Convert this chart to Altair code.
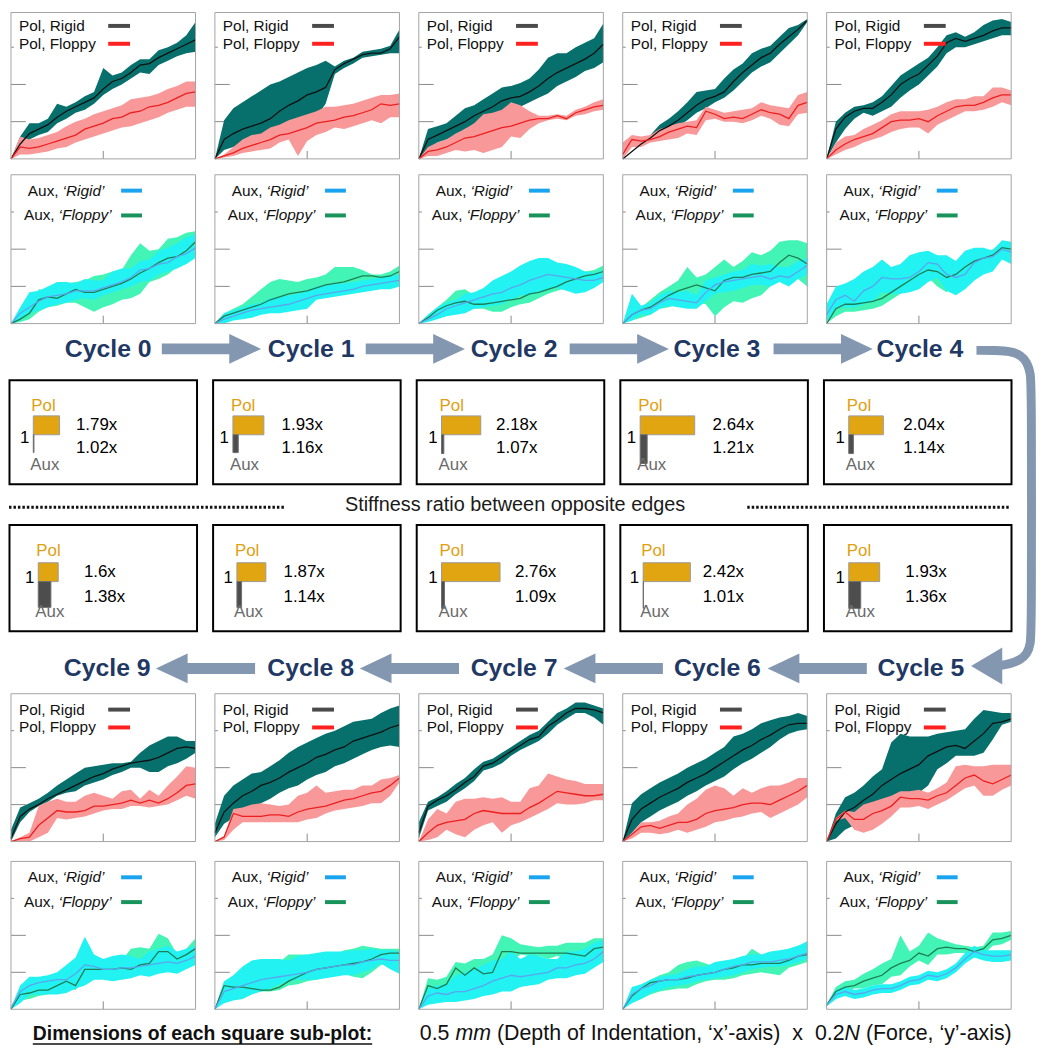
import altair as alt
import pandas as pd

# ------------------------------------------------------------------
# DATA  (x grid = fraction of 0.5 mm indentation, values = % of 0.2 N)
# ------------------------------------------------------------------
T = [0.00, 0.05, 0.10, 0.15, 0.20, 0.25, 0.30, 0.35, 0.40, 0.45, 0.50,
     0.55, 0.60, 0.65, 0.70, 0.75, 0.80, 0.85, 0.90, 0.95, 1.00]

# Pol panels: R = rigid (mean, low, high), F = floppy (mean, low, high)
P0_RM = [0, 10, 17, 20, 23, 28, 32, 35, 38, 41, 47, 52, 54, 58, 63, 64, 68, 71, 74, 77, 80]
P0_RL = [0, 6, 13, 16, 18, 24, 27, 31, 33, 37, 43, 47, 50, 54, 58, 57, 63, 66, 69, 71, 72]
P0_RH = [0, 15, 24, 24, 27, 37, 35, 38, 42, 45, 61, 56, 58, 63, 67, 67, 73, 75, 78, 83, 92]
P0_FM = [0, 8, 7, 8, 10, 12, 14, 16, 20, 22, 24, 27, 28, 31, 32, 35, 36, 38, 41, 44, 45]
P0_FL = [0, 3, 3, 4, 5, 7, 8, 11, 13, 15, 17, 19, 21, 22, 24, 26, 28, 31, 33, 35, 35]
P0_FH = [0, 15, 13, 14, 16, 18, 22, 25, 27, 30, 32, 34, 36, 40, 41, 42, 44, 47, 49, 52, 52]

P1_RM = [0, 13, 17, 20, 22, 24, 27, 32, 36, 39, 43, 45, 48, 60, 64, 67, 70, 71, 71, 74, 82]
P1_RL = [0, 6, 8, 11, 13, 14, 16, 18, 20, 23, 25, 28, 37, 57, 61, 64, 68, 69, 70, 71, 71]
P1_RH = [0, 26, 34, 38, 42, 46, 50, 52, 55, 58, 61, 63, 66, 62, 66, 68, 72, 73, 74, 76, 87]
P1_FM = [0, 2, 4, 7, 9, 11, 13, 16, 17, 19, 21, 24, 25, 26, 28, 29, 31, 33, 37, 36, 37]
P1_FL = [0, 1, 2, 4, 5, 6, 7, 11, 13, 2, 12, 16, 18, 21, 20, 22, 24, 26, 24, 28, 28]
P1_FH = [0, 3, 8, 13, 16, 17, 21, 23, 26, 28, 30, 32, 35, 35, 36, 37, 39, 41, 43, 43, 44]

P2_RM = [0, 13, 16, 19, 22, 25, 29, 32, 35, 39, 41, 42, 45, 49, 54, 58, 61, 64, 67, 71, 77]
P2_RL = [0, 6, 11, 13, 16, 20, 23, 26, 30, 31, 33, 35, 38, 41, 44, 49, 52, 55, 59, 61, 65]
P2_RH = [0, 20, 22, 24, 29, 34, 36, 40, 44, 48, 49, 51, 54, 60, 68, 71, 71, 75, 78, 81, 91]
P2_FM = [0, 5, 6, 8, 11, 14, 15, 17, 19, 21, 22, 24, 26, 27, 27, 29, 27, 31, 33, 35, 36]
P2_FL = [0, 2, 2, 4, 6, 5, 6, 4, 6, 8, 15, 14, 20, 24, 26, 27, 26, 29, 30, 32, 33]
P2_FH = [0, 8, 11, 13, 17, 20, 24, 30, 31, 33, 38, 36, 32, 29, 29, 30, 29, 33, 35, 38, 40]

P3_RM = [0, 5, 10, 14, 19, 22, 26, 31, 36, 40, 42, 45, 52, 58, 63, 68, 71, 77, 82, 87, 93]
P3_RL = [0, 5, 10, 13, 16, 17, 22, 26, 31, 34, 38, 41, 46, 52, 58, 62, 65, 71, 77, 83, 92]
P3_RH = [0, 5, 10, 16, 23, 27, 32, 38, 45, 46, 47, 54, 60, 64, 71, 74, 76, 82, 88, 90, 94]
P3_FM = [3, 13, 12, 13, 15, 18, 20, 22, 21, 32, 30, 27, 28, 27, 30, 33, 31, 30, 27, 36, 38]
P3_FL = [0, 8, 8, 11, 12, 13, 14, 17, 16, 26, 27, 25, 25, 24, 26, 29, 27, 23, 22, 30, 31]
P3_FH = [11, 16, 15, 16, 20, 22, 24, 25, 26, 35, 33, 31, 32, 33, 34, 38, 36, 35, 34, 43, 45]

P4_RM = [0, 20, 28, 32, 34, 34, 38, 43, 50, 54, 57, 63, 69, 78, 81, 79, 81, 83, 86, 88, 88]
P4_RL = [0, 11, 20, 27, 31, 29, 32, 35, 41, 46, 50, 56, 62, 71, 75, 75, 77, 79, 81, 83, 83]
P4_RH = [0, 25, 31, 35, 36, 38, 42, 49, 56, 60, 64, 68, 75, 83, 85, 82, 85, 90, 93, 94, 92]
P4_FM = [0, 6, 10, 13, 15, 17, 21, 25, 26, 26, 27, 25, 29, 32, 35, 36, 36, 38, 41, 43, 43]
P4_FL = [0, 3, 6, 8, 11, 13, 15, 18, 20, 21, 21, 17, 23, 26, 29, 32, 32, 33, 35, 38, 36]
P4_FH = [0, 11, 15, 16, 20, 23, 26, 30, 32, 32, 32, 33, 35, 38, 40, 40, 42, 42, 48, 48, 46]

P5_RM = [0, 12, 20, 23, 28, 32, 38, 42, 46, 49, 52, 58, 61, 64, 65, 63, 68, 73, 80, 81, 83]
P5_RL = [0, 2, 8, 11, 11, 14, 20, 26, 31, 33, 33, 38, 49, 53, 58, 58, 58, 60, 69, 79, 81]
P5_RH = [0, 19, 30, 33, 38, 44, 49, 67, 73, 71, 71, 71, 73, 74, 75, 76, 83, 89, 88, 87, 87]
P5_FM = [0, 15, 20, 15, 15, 19, 21, 24, 30, 29, 29, 28, 31, 33, 38, 43, 45, 41, 39, 42, 45]
P5_FL = [0, 14, 16, 8, 6, 8, 12, 17, 23, 23, 24, 22, 25, 28, 32, 36, 38, 31, 31, 35, 38]
P5_FH = [0, 16, 21, 20, 25, 27, 29, 31, 34, 34, 35, 33, 36, 40, 51, 52, 51, 51, 52, 52, 52]

P6_RM = [0, 15, 22, 26, 30, 33, 36, 40, 43, 46, 50, 54, 58, 62, 65, 69, 72, 76, 79, 80, 80]
P6_RL = [0, 6, 13, 17, 21, 24, 27, 31, 34, 38, 41, 44, 49, 53, 56, 60, 64, 69, 73, 75, 76]
P6_RH = [0, 26, 32, 36, 40, 43, 46, 50, 53, 56, 60, 64, 71, 73, 76, 80, 82, 84, 85, 87, 85]
P6_FM = [0, 5, 10, 11, 9, 11, 13, 13, 15, 19, 21, 22, 23, 25, 26, 26, 25, 28, 31, 34, 38]
P6_FL = [0, 2, 6, 6, 5, 6, 8, 6, 8, 10, 13, 14, 16, 17, 19, 20, 16, 19, 22, 25, 30]
P6_FH = [0, 6, 13, 13, 14, 17, 19, 25, 29, 35, 38, 36, 31, 36, 33, 36, 38, 38, 40, 43, 43]

P7_RM = [6, 24, 28, 31, 35, 40, 44, 51, 53, 57, 61, 65, 69, 71, 78, 82, 87, 90, 90, 89, 87]
P7_RL = [2, 21, 24, 27, 32, 36, 41, 48, 50, 53, 58, 62, 65, 68, 73, 79, 83, 87, 87, 84, 79]
P7_RH = [13, 27, 30, 34, 39, 43, 49, 54, 56, 60, 64, 68, 72, 75, 81, 87, 90, 94, 94, 92, 90]
P7_FM = [0, 6, 11, 13, 14, 15, 19, 21, 20, 19, 19, 19, 23, 26, 30, 34, 33, 32, 31, 31, 32]
P7_FL = [0, 1, 3, 8, 5, 3, 8, 11, 13, 6, 11, 13, 16, 19, 22, 26, 25, 25, 26, 28, 28]
P7_FH = [0, 15, 22, 19, 27, 29, 29, 30, 29, 30, 27, 27, 36, 38, 46, 44, 42, 41, 39, 39, 39]

P8_RM = [6, 20, 26, 31, 34, 38, 40, 43, 47, 50, 53, 57, 59, 62, 64, 68, 70, 72, 74, 77, 79]
P8_RL = [3, 12, 16, 21, 23, 26, 29, 33, 36, 38, 42, 45, 47, 51, 53, 56, 59, 62, 64, 65, 64]
P8_RH = [12, 31, 38, 42, 46, 47, 51, 55, 60, 64, 67, 70, 73, 75, 78, 81, 82, 83, 87, 90, 92]
P8_FM = [0, 3, 19, 17, 17, 17, 18, 18, 17, 20, 22, 23, 24, 26, 28, 29, 31, 33, 34, 38, 43]
P8_FL = [0, 1, 8, 13, 13, 13, 13, 13, 13, 13, 15, 16, 19, 21, 22, 23, 24, 26, 26, 31, 40]
P8_FH = [0, 4, 22, 23, 25, 26, 25, 24, 25, 31, 33, 38, 33, 34, 35, 35, 38, 38, 42, 43, 45]

P9_RM = [2, 17, 22, 25, 29, 32, 35, 38, 41, 44, 46, 49, 51, 53, 54, 55, 57, 60, 63, 64, 63]
P9_RL = [0, 13, 20, 24, 27, 31, 33, 34, 38, 40, 42, 45, 47, 50, 50, 47, 47, 51, 53, 56, 60]
P9_RH = [8, 23, 26, 29, 33, 38, 42, 46, 50, 51, 52, 53, 53, 54, 60, 65, 68, 71, 71, 68, 68]
P9_FM = [0, 2, 3, 11, 16, 21, 20, 20, 21, 24, 24, 25, 26, 28, 26, 28, 26, 29, 33, 38, 39]
P9_FL = [0, 0, 0, 3, 6, 16, 15, 16, 17, 19, 21, 22, 22, 24, 24, 23, 24, 25, 28, 31, 29]
P9_FH = [0, 3, 6, 24, 27, 29, 27, 27, 31, 33, 31, 29, 34, 35, 29, 35, 31, 38, 44, 51, 50]

# Aux panels
A0_RM = [0, 7, 11, 15, 18, 19, 20, 22, 22, 22, 24, 26, 28, 31, 36, 37, 40, 41, 45, 47, 51]
A0_RL = [0, 2, 7, 9, 11, 13, 14, 16, 17, 16, 19, 21, 23, 25, 28, 29, 33, 35, 37, 40, 44]
A0_RH = [0, 11, 21, 22, 25, 28, 28, 27, 30, 29, 29, 35, 37, 37, 42, 43, 49, 51, 54, 58, 60]
A0_FM = [0, 3, 7, 16, 18, 17, 20, 23, 21, 21, 23, 25, 27, 30, 34, 37, 41, 44, 45, 49, 55]
A0_FL = [0, 1, 3, 8, 11, 12, 14, 14, 11, 8, 11, 13, 16, 17, 20, 28, 30, 33, 38, 40, 45]
A0_FH = [0, 4, 11, 23, 22, 26, 27, 28, 29, 32, 33, 35, 36, 46, 54, 49, 50, 57, 58, 61, 62]

A1_RM = [0, 3, 5, 7, 9, 10, 11, 12, 13, 15, 17, 19, 20, 21, 22, 23, 25, 26, 27, 28, 29]
A1_RL = [0, 0, 2, 3, 4, 6, 7, 7, 8, 9, 10, 16, 17, 18, 19, 20, 21, 22, 23, 23, 25]
A1_RH = [0, 7, 9, 11, 13, 14, 17, 18, 19, 20, 22, 25, 26, 27, 27, 28, 29, 30, 31, 32, 33]
A1_FM = [0, 5, 7, 9, 11, 13, 16, 18, 20, 21, 22, 24, 26, 27, 28, 30, 32, 32, 31, 32, 35]
A1_FL = [0, 1, 3, 4, 7, 9, 12, 14, 16, 16, 17, 19, 21, 22, 23, 25, 28, 29, 29, 30, 31]
A1_FH = [0, 7, 10, 13, 18, 23, 28, 30, 29, 28, 30, 31, 33, 38, 38, 38, 36, 33, 33, 35, 39]

A2_RM = [0, 3, 6, 10, 12, 14, 16, 18, 20, 21, 24, 26, 29, 31, 33, 32, 31, 30, 29, 29, 31]
A2_RL = [0, 1, 3, 5, 6, 7, 10, 11, 12, 13, 16, 19, 19, 21, 23, 24, 22, 20, 21, 24, 28]
A2_RH = [0, 6, 11, 14, 16, 20, 21, 24, 29, 32, 35, 39, 42, 44, 44, 41, 40, 38, 35, 34, 36]
A2_FM = [0, 4, 9, 12, 14, 15, 13, 13, 14, 15, 16, 17, 20, 21, 23, 25, 28, 30, 32, 33, 35]
A2_FL = [0, 2, 5, 8, 11, 11, 10, 10, 8, 8, 11, 13, 14, 17, 20, 22, 24, 26, 29, 30, 32]
A2_FH = [0, 6, 11, 16, 22, 23, 19, 20, 19, 20, 20, 22, 24, 25, 29, 31, 33, 34, 35, 36, 39]

A3_RM = [0, 6, 9, 10, 14, 17, 16, 15, 14, 21, 26, 28, 29, 30, 31, 32, 30, 32, 31, 35, 39]
A3_RL = [0, 2, 6, 6, 10, 12, 11, 10, 10, 15, 20, 21, 22, 24, 26, 26, 25, 28, 25, 30, 33]
A3_RH = [0, 20, 12, 14, 19, 22, 21, 22, 19, 29, 31, 33, 35, 36, 40, 39, 40, 38, 38, 42, 44]
A3_FM = [0, 6, 9, 11, 15, 19, 22, 24, 26, 24, 22, 29, 31, 31, 33, 34, 35, 41, 46, 44, 40]
A3_FL = [0, 2, 4, 6, 10, 11, 13, 13, 14, 13, 5, 11, 15, 14, 17, 19, 25, 31, 37, 30, 25]
A3_FH = [0, 8, 11, 16, 21, 25, 29, 38, 31, 33, 38, 43, 38, 42, 48, 46, 49, 55, 56, 56, 54]

A4_RM = [6, 16, 19, 15, 22, 25, 31, 30, 30, 31, 35, 41, 40, 33, 31, 33, 41, 44, 45, 50, 48]
A4_RL = [1, 11, 11, 11, 13, 15, 21, 20, 20, 21, 23, 28, 31, 22, 19, 23, 29, 33, 35, 43, 40]
A4_RH = [13, 25, 27, 30, 35, 38, 43, 38, 40, 46, 48, 49, 46, 46, 42, 49, 51, 51, 49, 56, 55]
A4_FM = [0, 10, 13, 13, 14, 15, 17, 21, 25, 29, 33, 36, 35, 31, 33, 38, 42, 44, 46, 51, 50]
A4_FL = [0, 5, 8, 8, 9, 10, 12, 16, 20, 24, 28, 31, 25, 21, 28, 33, 37, 39, 41, 46, 45]
A4_FH = [0, 14, 17, 17, 18, 19, 21, 25, 29, 33, 37, 40, 40, 36, 38, 42, 46, 48, 50, 55, 54]

A5_RM = [3, 10, 12, 10, 11, 13, 14, 14, 16, 19, 20, 23, 22, 24, 28, 34, 39, 37, 36, 36, 37]
A5_RL = [2, 7, 9, 7, 8, 10, 11, 11, 13, 16, 17, 20, 19, 21, 25, 31, 35, 33, 32, 32, 33]
A5_RH = [3, 13, 15, 13, 14, 16, 17, 17, 19, 22, 23, 26, 25, 27, 31, 38, 43, 40, 40, 40, 40]
A5_FM = [3, 12, 15, 16, 19, 21, 23, 28, 31, 33, 38, 36, 41, 42, 41, 41, 39, 41, 47, 48, 50]
A5_FL = [2, 7, 10, 14, 14, 16, 17, 22, 23, 29, 33, 30, 37, 37, 38, 38, 37, 37, 43, 44, 47]
A5_FH = [3, 15, 19, 20, 24, 27, 31, 34, 50, 39, 43, 52, 48, 46, 44, 43, 42, 43, 52, 52, 53]

A6_RM = [0, 10, 14, 16, 19, 20, 20, 22, 23, 24, 25, 27, 29, 30, 32, 32, 32, 33, 34, 36, 38]
A6_RL = [0, 4, 7, 11, 13, 15, 16, 17, 19, 20, 21, 22, 23, 25, 27, 28, 29, 29, 30, 32, 34]
A6_RH = [0, 15, 17, 20, 22, 23, 24, 27, 29, 29, 32, 33, 34, 36, 37, 37, 39, 40, 41, 43, 46]
A6_FM = [0, 9, 14, 18, 19, 20, 20, 21, 23, 24, 25, 27, 28, 30, 30, 31, 31, 31, 33, 36, 37]
A6_FL = [0, 5, 7, 10, 12, 13, 14, 14, 17, 19, 20, 20, 21, 23, 24, 25, 24, 23, 28, 30, 32]
A6_FH = [0, 12, 16, 20, 23, 25, 30, 32, 33, 31, 29, 32, 31, 34, 41, 37, 37, 39, 41, 43, 44]

A7_RM = [0, 9, 11, 10, 12, 12, 14, 16, 19, 21, 23, 22, 23, 24, 25, 28, 28, 30, 31, 34, 39]
A7_RL = [0, 3, 4, 5, 5, 6, 7, 9, 10, 12, 12, 15, 16, 17, 20, 21, 21, 23, 24, 28, 32]
A7_RH = [0, 14, 16, 17, 23, 25, 27, 30, 33, 34, 39, 34, 37, 36, 34, 34, 39, 39, 41, 45, 47]
A7_FM = [0, 16, 14, 17, 28, 23, 28, 24, 25, 39, 39, 38, 38, 38, 38, 38, 38, 37, 36, 41, 42]
A7_FL = [0, 10, 10, 12, 19, 19, 21, 20, 20, 32, 32, 37, 36, 36, 34, 36, 34, 32, 32, 37, 38]
A7_FH = [0, 21, 20, 22, 32, 31, 34, 34, 37, 50, 48, 44, 43, 42, 43, 43, 45, 45, 45, 48, 48]

A8_RM = [0, 12, 14, 16, 18, 20, 21, 22, 23, 24, 25, 27, 28, 29, 30, 30, 32, 33, 34, 33, 33]
A8_RL = [0, 4, 6, 7, 10, 12, 14, 17, 19, 20, 20, 20, 21, 22, 23, 23, 25, 27, 31, 27, 24]
A8_RH = [0, 19, 23, 29, 33, 34, 34, 34, 33, 36, 37, 38, 39, 39, 39, 40, 40, 41, 40, 40, 39]
A8_FM = [0, 16, 15, 15, 14, 13, 13, 15, 19, 22, 25, 27, 28, 29, 30, 31, 32, 34, 37, 38, 38]
A8_FL = [0, 14, 12, 12, 12, 12, 12, 13, 16, 17, 19, 20, 22, 23, 24, 22, 21, 25, 30, 31, 34]
A8_FH = [0, 19, 17, 17, 19, 22, 27, 32, 37, 37, 37, 34, 36, 37, 40, 41, 43, 42, 41, 41, 41]

A9_RM = [1, 12, 16, 18, 19, 20, 20, 24, 30, 29, 27, 27, 28, 28, 29, 30, 31, 32, 31, 33, 36]
A9_RL = [0, 4, 10, 10, 10, 10, 11, 14, 16, 20, 20, 19, 20, 21, 23, 22, 24, 25, 24, 27, 30]
A9_RH = [1, 16, 22, 22, 23, 25, 30, 35, 49, 37, 34, 36, 37, 36, 34, 39, 41, 43, 39, 41, 43]
A9_FM = [0, 10, 11, 13, 13, 16, 19, 16, 27, 27, 27, 27, 28, 27, 30, 31, 39, 39, 34, 37, 41]
A9_FL = [0, 6, 7, 9, 10, 13, 14, 13, 21, 22, 22, 23, 23, 22, 25, 27, 32, 33, 31, 32, 36]
A9_FH = [0, 12, 14, 16, 17, 20, 22, 21, 32, 32, 32, 32, 33, 41, 42, 41, 51, 48, 37, 41, 48]

POL_SERIES = [
    (P0_RM, P0_RL, P0_RH, P0_FM, P0_FL, P0_FH), (P1_RM, P1_RL, P1_RH, P1_FM, P1_FL, P1_FH),
    (P2_RM, P2_RL, P2_RH, P2_FM, P2_FL, P2_FH), (P3_RM, P3_RL, P3_RH, P3_FM, P3_FL, P3_FH),
    (P4_RM, P4_RL, P4_RH, P4_FM, P4_FL, P4_FH), (P5_RM, P5_RL, P5_RH, P5_FM, P5_FL, P5_FH),
    (P6_RM, P6_RL, P6_RH, P6_FM, P6_FL, P6_FH), (P7_RM, P7_RL, P7_RH, P7_FM, P7_FL, P7_FH),
    (P8_RM, P8_RL, P8_RH, P8_FM, P8_FL, P8_FH), (P9_RM, P9_RL, P9_RH, P9_FM, P9_FL, P9_FH),
]
AUX_SERIES = [
    (A0_RM, A0_RL, A0_RH, A0_FM, A0_FL, A0_FH), (A1_RM, A1_RL, A1_RH, A1_FM, A1_FL, A1_FH),
    (A2_RM, A2_RL, A2_RH, A2_FM, A2_FL, A2_FH), (A3_RM, A3_RL, A3_RH, A3_FM, A3_FL, A3_FH),
    (A4_RM, A4_RL, A4_RH, A4_FM, A4_FL, A4_FH), (A5_RM, A5_RL, A5_RH, A5_FM, A5_FL, A5_FH),
    (A6_RM, A6_RL, A6_RH, A6_FM, A6_FL, A6_FH), (A7_RM, A7_RL, A7_RH, A7_FM, A7_FL, A7_FH),
    (A8_RM, A8_RL, A8_RH, A8_FM, A8_FL, A8_FH), (A9_RM, A9_RL, A9_RH, A9_FM, A9_FL, A9_FH),
]

# stiffness ratios (cycle 0..9)
POL_RATIO = [1.79, 1.93, 2.18, 2.64, 2.04, 1.93, 2.42, 2.76, 1.87, 1.6]
AUX_RATIO = [1.02, 1.16, 1.07, 1.21, 1.14, 1.36, 1.01, 1.09, 1.14, 1.38]

CYCLES = list(range(10))
POL_LEGEND = ["Pol, Rigid", "Pol, Floppy"]
AUX_LEGEND_A = ["Aux,", "Aux,"]
AUX_LEGEND_B = ["\u2018Rigid\u2019", "\u2018Floppy\u2019"]
STIFF_TEXT = "Stiffness ratio between opposite edges"
CAPTION_BOLD = "Dimensions of each square sub-plot:"
CAPTION_PARTS = ["0.5", "mm", "(Depth of Indentation, \u2018x\u2019-axis)", "x", "0.2", "N",
                 "(Force, \u2018y\u2019-axis)"]
CAPTION_ITALIC = [False, True, False, False, False, True, False]

# ------------------------------------------------------------------
# LAYOUT / STYLE
# ------------------------------------------------------------------
FONT = "Liberation Sans"
TEAL, PINK, MINT, CYAN = "#07706d", "#f89898", "#42f5b6", "#22f2f2"
BLACK_L, RED_L, BLUE_L, GREEN_L = "#111111", "#ee1f1f", "#5aa6ee", "#1f7f52"
SW_RIGID, SW_FLOPPY, SW_ARIGID, SW_AFLOPPY = "#4a4a4a", "#ff2020", "#1aa3ee", "#19935c"
ARROW = "#8497b0"
NAVY = "#1f3864"
GOLD = "#e2a512"

PANEL_X0, PANEL_PITCH, PANEL_W = 11.0, 205.5, 186.0
ROW_POL_TOP, ROW_AUX_TOP = (6.0, 150.0), (172.0, 150.0)
ROW_POL_BOT, ROW_AUX_BOT = (695.0, 149.0), (864.0, 149.0)
TOP_LIMIT = 8.5

SX = alt.Scale(domain=[8, 1045], nice=False, zero=False)
SY = alt.Scale(domain=[8, 1051], nice=False, zero=False, reverse=True)


def xq(f):
    return alt.X(f, type="quantitative", scale=SX, axis=None)


def yq(f):
    return alt.Y(f, type="quantitative", scale=SY, axis=None)


def panel_box(cycle, kind):
    col = cycle if cycle < 5 else 9 - cycle
    x0 = PANEL_X0 + PANEL_PITCH * col
    if kind == "pol":
        y0, h = ROW_POL_TOP if cycle < 5 else ROW_POL_BOT
    else:
        y0, h = ROW_AUX_TOP if cycle < 5 else ROW_AUX_BOT
    return x0, y0, PANEL_W, h


def series_df(kind, series_list, which):
    rows = []
    for c in CYCLES:
        x0, y0, w, h = panel_box(c, kind)
        s = series_list[c]
        m, lo, hi = (s[0], s[1], s[2]) if which == "R" else (s[3], s[4], s[5])
        for t, mv, lv, hv in zip(T, m, lo, hi):
            rows.append(dict(panel=f"{kind}{c}", X=x0 + t * w,
                             YM=y0 + h * (1 - mv / 100.0),
                             YL=y0 + h * (1 - lv / 100.0),
                             YH=y0 + h * (1 - hv / 100.0)))
    return pd.DataFrame(rows)


def band(df, color):
    return alt.Chart(df).mark_area(color=color, opacity=1).encode(
        x=xq("X"), y=yq("YL"), y2=alt.Y2("YH"), detail="panel:N")


def line(df, color, width=1.3):
    return alt.Chart(df).mark_line(color=color, strokeWidth=width).encode(
        x=xq("X"), y=yq("YM"), detail="panel:N")


def rect_layer(df, **kw):
    return alt.Chart(df).mark_rect(**kw).encode(
        x=xq("X"), x2=alt.X2("X2"), y=yq("Y"), y2=alt.Y2("Y2"))


def rule_layer(df, **kw):
    return alt.Chart(df).mark_rule(**kw).encode(
        x=xq("X"), x2=alt.X2("X2"), y=yq("Y"), y2=alt.Y2("Y2"))


def text_layer(df, **kw):
    return alt.Chart(df).mark_text(font=FONT, baseline="middle", **kw).encode(
        x=xq("X"), y=yq("Y"), text="text:N")


layers = []

# ---------- panels: frames / ticks / legend backgrounds ----------
frames, ticks, legbg = [], [], []
for c in CYCLES:
    for kind in ("pol", "aux"):
        x0, y0, w, h = panel_box(c, kind)
        frames.append(dict(X=x0, X2=x0 + w, Y=max(y0, TOP_LIMIT), Y2=y0 + h))
        for v in (0.25, 0.5, 0.75):
            yy = y0 + h * (1 - v)
            ticks.append(dict(X=x0, X2=x0 + 15, Y=yy, Y2=yy))
        ticks.append(dict(X=x0 + w / 2, X2=x0 + w / 2, Y=y0 + h - 8, Y2=y0 + h))
        legbg.append(dict(X=x0 + 3, X2=x0 + 134, Y=y0 + 3,
                          Y2=y0 + (46 if kind == "pol" else 52)))

layers.append(rule_layer(pd.DataFrame(ticks), color="#8a8a8a", strokeWidth=1))
layers.append(rect_layer(pd.DataFrame(legbg), color="white"))

pol_r, pol_f = series_df("pol", POL_SERIES, "R"), series_df("pol", POL_SERIES, "F")
aux_r, aux_f = series_df("aux", AUX_SERIES, "R"), series_df("aux", AUX_SERIES, "F")

layers += [band(pol_r, TEAL), band(pol_f, PINK), band(aux_f, MINT), band(aux_r, CYAN)]
layers += [line(pol_r, BLACK_L), line(pol_f, RED_L), line(aux_f, GREEN_L), line(aux_r, BLUE_L)]
layers.append(rect_layer(pd.DataFrame(frames), filled=False, stroke="#a3a3a3", strokeWidth=1))

# ---------- legends ----------
pol_txt, aux_a, aux_b, sw = [], [], [], []
for c in CYCLES:
    x0, y0, w, h = panel_box(c, "pol")
    for i, lab in enumerate(POL_LEGEND):
        yy = y0 + (16 if i == 0 else 34)
        pol_txt.append(dict(X=x0 + 8, Y=yy, text=lab))
        sw.append(dict(X=x0 + 98, X2=x0 + 120, Y=yy, Y2=yy, c=SW_RIGID if i == 0 else SW_FLOPPY))
    x0, y0, w, h = panel_box(c, "aux")
    for i in range(2):
        yy = y0 + (16 if i == 0 else 41)
        aux_a.append(dict(X=x0 + (17 if i == 0 else 13), Y=yy, text=AUX_LEGEND_A[i]))
        aux_b.append(dict(X=x0 + (52 if i == 0 else 48), Y=yy, text=AUX_LEGEND_B[i]))
        sw.append(dict(X=x0 + 111, X2=x0 + 132, Y=yy, Y2=yy, c=SW_ARIGID if i == 0 else SW_AFLOPPY))

layers.append(alt.Chart(pd.DataFrame(sw)).mark_rule(strokeWidth=4).encode(
    x=xq("X"), x2=alt.X2("X2"), y=yq("Y"), y2=alt.Y2("Y2"), color=alt.Color("c:N", scale=None)))
layers.append(text_layer(pd.DataFrame(pol_txt), align="left", fontSize=15.5, color="#111"))
layers.append(text_layer(pd.DataFrame(aux_a), align="left", fontSize=15.5, color="#111"))
layers.append(text_layer(pd.DataFrame(aux_b), align="left", fontSize=15.5, color="#111",
                         fontStyle="italic"))

# ---------- cycle labels and arrows ----------
cyc = []
for c in CYCLES:
    if c < 5:
        cyc.append(dict(X=109 + 204.5 * c, Y=348, text=f"Cycle {c}"))
    else:
        cyc.append(dict(X=108 + 205 * (9 - c), Y=669, text=f"Cycle {c}"))
layers.append(text_layer(pd.DataFrame(cyc), align="center", fontSize=25, fontWeight="bold",
                         color=NAVY))

shafts, heads_r, heads_l = [], [], []
for i in range(4):
    s, tip = 163 + 205.5 * i, 263 + 205.5 * i
    shafts.append(dict(X=s, X2=tip - 30, Y=342, Y2=353))
    heads_r.append(dict(X=tip - 16, Y=347.5))
    tip2 = 157 + 205.5 * i
    shafts.append(dict(X=tip2 + 30, X2=tip2 + 100, Y=664, Y2=675))
    heads_l.append(dict(X=tip2 + 16, Y=669.5))
layers.append(rect_layer(pd.DataFrame(shafts), color=ARROW))
layers.append(alt.Chart(pd.DataFrame(heads_r)).mark_point(
    shape="M-1,-0.94L1,0L-1,0.94Z", filled=True, size=1024, color=ARROW, opacity=1).encode(
    x=xq("X"), y=yq("Y")))
layers.append(alt.Chart(pd.DataFrame(heads_l)).mark_point(
    shape="M1,-0.94L-1,0L1,0.94Z", filled=True, size=1024, color=ARROW, opacity=1).encode(
    x=xq("X"), y=yq("Y")))

curve_pts = [(984, 349), (1004, 349), (1019, 350), (1029, 354), (1035, 361), (1038.5, 372),
             (1039.5, 386), (1039.5, 630), (1038.5, 645), (1035, 655), (1028, 661),
             (1018, 665), (1005, 667)]
curve = pd.DataFrame([dict(i=k, X=p[0], Y=p[1]) for k, p in enumerate(curve_pts)])
layers.append(alt.Chart(curve).mark_line(interpolate="basis", strokeWidth=9, color=ARROW).encode(
    x=xq("X"), y=yq("Y"), order="i:Q"))
layers.append(alt.Chart(pd.DataFrame([dict(X=993, Y=667)])).mark_point(
    shape="M1,-1.1L-0.85,0L1,1.1Z", filled=True, size=1156, color=ARROW, opacity=1).encode(
    x=xq("X"), y=yq("Y")))

# ---------- stiffness ratio boxes ----------
BOX_X0, BOX_PITCH, BOX_W = 9.5, 205.2, 189.0
BOX_ROWS = [dict(top=379, bot=484, pol=26, bar=36, one=58, aux=86, r1=45, r2=68),
            dict(top=525, bot=632, pol=26.5, bar=38, one=53, aux=88, r1=47.5, r2=72.5)]
AXIS_REL = [[24, 20, 25, 20, 25], [29, 24, 25, 23, 25]]
TEXT_REL = [[67, 69, 80, 93, 80], [75, 71, 99, 83, 82]]
AUX_DEPTH = [[18, 18, 19, 29, 19], [26, 26, 27, 27, 27]]
BAR_H, BAR_UNIT = 19, 33.5

boxes, polbars, auxbars, poltx, auxtx, onetx, rtx = [], [], [], [], [], [], []
for r in range(2):
    R = BOX_ROWS[r]
    for k in range(5):
        c = k if r == 0 else 9 - k
        bx = BOX_X0 + BOX_PITCH * k
        boxes.append(dict(X=bx, X2=bx + BOX_W, Y=R["top"], Y2=R["bot"]))
        ax = bx + AXIS_REL[r][k]
        yb = R["top"] + R["bar"]
        polbars.append(dict(X=ax, X2=ax + (POL_RATIO[c] - 1) * BAR_UNIT, Y=yb, Y2=yb + BAR_H))
        auxbars.append(dict(X=ax, X2=ax + (AUX_RATIO[c] - 1) * BAR_UNIT, Y=yb + BAR_H,
                            Y2=yb + BAR_H + AUX_DEPTH[r][k]))
        poltx.append(dict(X=ax - 2, Y=R["top"] + R["pol"], text="Pol"))
        auxtx.append(dict(X=ax - 3, Y=R["top"] + R["aux"], text="Aux"))
        onetx.append(dict(X=ax - 4, Y=R["top"] + R["one"], text="1"))
        tx = bx + TEXT_REL[r][k]
        rtx.append(dict(X=tx, Y=R["top"] + R["r1"], text=f"{POL_RATIO[c]:g}x"))
        rtx.append(dict(X=tx, Y=R["top"] + R["r2"], text=f"{AUX_RATIO[c]:g}x"))

layers.append(rect_layer(pd.DataFrame(polbars), fill=GOLD, stroke="#9a9a9a", strokeWidth=1))
layers.append(rect_layer(pd.DataFrame(auxbars), fill="#4d4d4d", stroke="#6f6f6f", strokeWidth=1))
layers.append(rect_layer(pd.DataFrame(boxes), filled=False, stroke="#000", strokeWidth=2))
layers.append(text_layer(pd.DataFrame(poltx), align="left", fontSize=17, color="#e0a010"))
layers.append(text_layer(pd.DataFrame(auxtx), align="left", fontSize=17, color="#6a6a6a"))
layers.append(text_layer(pd.DataFrame(onetx), align="right", fontSize=17, color="#000"))
layers.append(text_layer(pd.DataFrame(rtx), align="left", fontSize=17, color="#000"))

# ---------- dotted separator ----------
dots = pd.DataFrame([dict(X=9, X2=288, Y=507, Y2=507), dict(X=753, X2=1018, Y=507, Y2=507)])
layers.append(rule_layer(dots, color="#111", strokeWidth=3, strokeDash=[2.5, 2]))
layers.append(text_layer(pd.DataFrame([dict(X=519, Y=505, text=STIFF_TEXT)]), align="center",
                         fontSize=20, color="#1a1a1a"))

# ---------- caption ----------
CAP_Y = 1038
CAP_BOLD_X = 33
CAP_X = [423, 459, 500.8, 798.4, 821.2, 851.1, 872.6]
layers.append(text_layer(pd.DataFrame([dict(X=CAP_BOLD_X, Y=CAP_Y, text=CAPTION_BOLD)]),
                         align="left", fontSize=19.5, fontWeight="bold", color="#111"))
layers.append(rule_layer(pd.DataFrame([dict(X=CAP_BOLD_X, X2=CAP_BOLD_X + 342, Y=CAP_Y + 10,
                                            Y2=CAP_Y + 10)]), color="#111", strokeWidth=1.5))
reg = [dict(X=x, Y=CAP_Y, text=t) for x, t, it in zip(CAP_X, CAPTION_PARTS, CAPTION_ITALIC) if not it]
ita = [dict(X=x, Y=CAP_Y, text=t) for x, t, it in zip(CAP_X, CAPTION_PARTS, CAPTION_ITALIC) if it]
layers.append(text_layer(pd.DataFrame(reg), align="left", fontSize=21.5, color="#111"))
layers.append(text_layer(pd.DataFrame(ita), align="left", fontSize=21.5, color="#111",
                         fontStyle="italic"))

chart = alt.layer(*layers).properties(
    width=1037, height=1043, padding=0,
    autosize=alt.AutoSizeParams(type="none"),
).configure_view(stroke=None)

chart.save("out.html", embed_options={"renderer": "svg", "actions": False})
